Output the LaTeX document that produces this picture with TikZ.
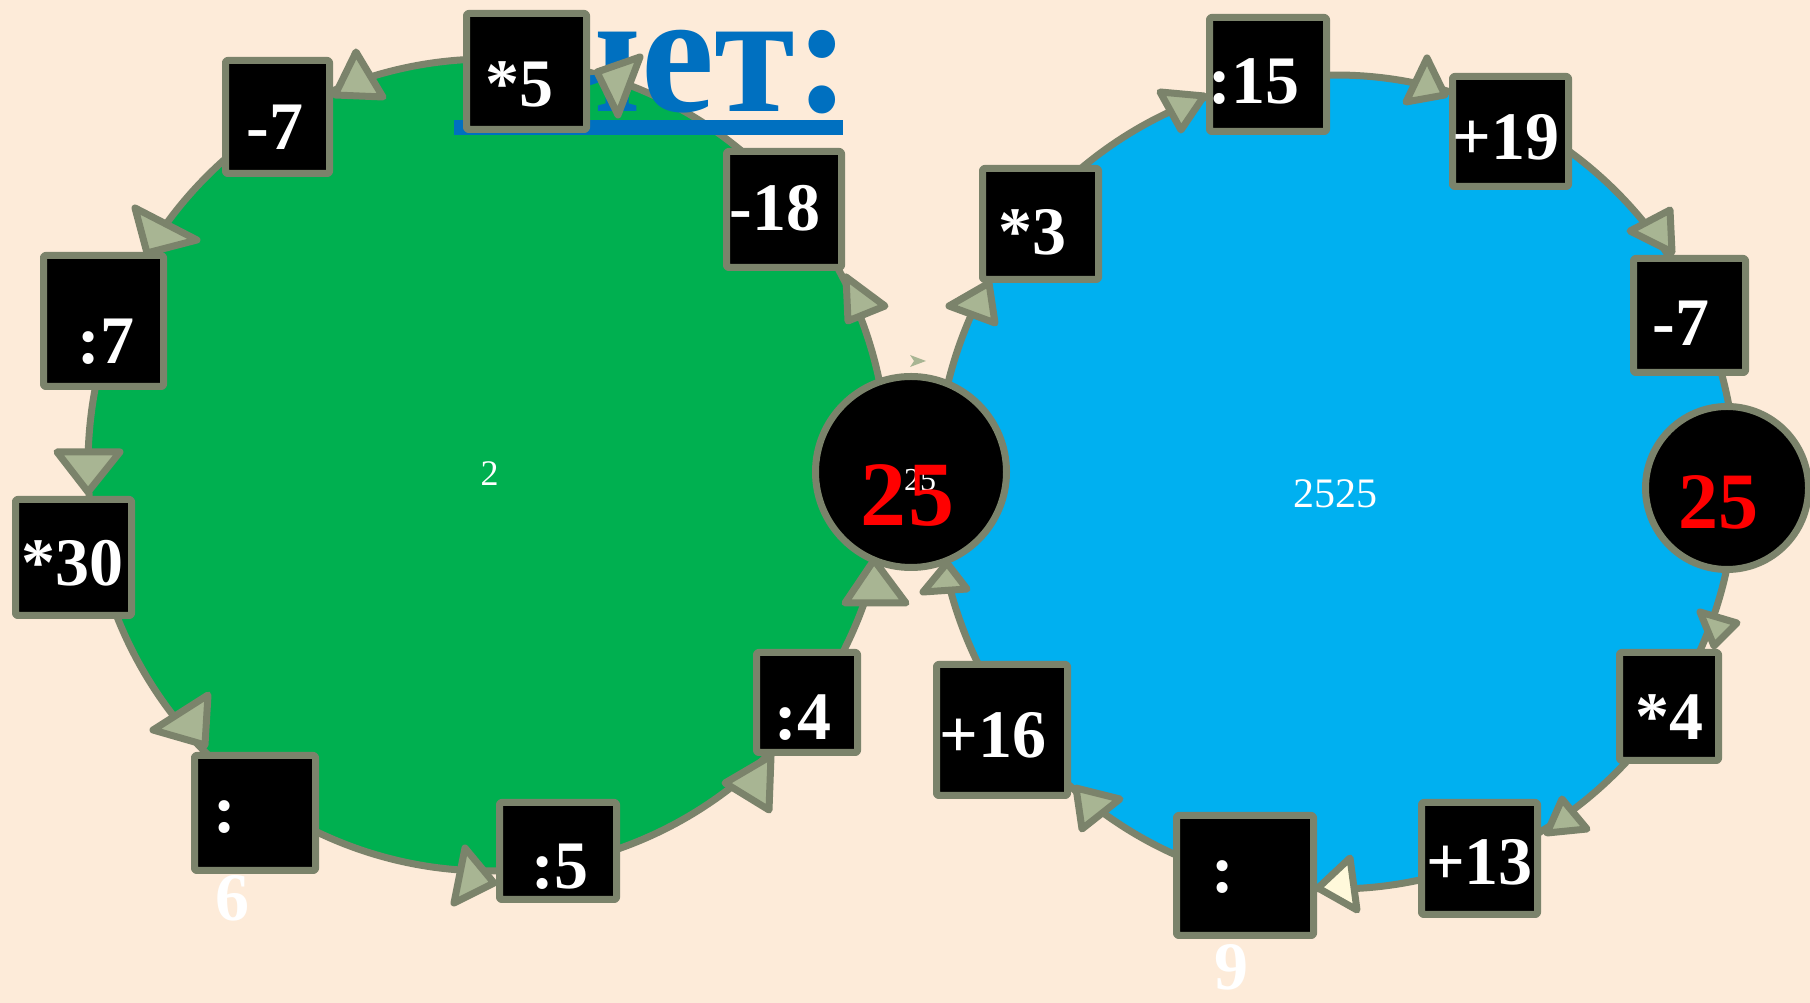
\documentclass[tikz,border=0pt]{standalone}
\usepackage{fontspec}
\setmainfont{Liberation Serif}
\usepackage{graphicx}
\usetikzlibrary{calc,shapes.geometric}
\definecolor{bg}{HTML}{FDEBD9}
\definecolor{ggreen}{HTML}{00B050}
\definecolor{bblue}{HTML}{00B0F0}
\definecolor{bord}{HTML}{7B836B}
\definecolor{sage}{HTML}{A8B593}
\definecolor{lyellow}{HTML}{FFF9DB}
\definecolor{tblue}{HTML}{0070C0}
\pgfdeclarelayer{fills}
\pgfdeclarelayer{rings}
\pgfsetlayers{fills,rings,main}
\newcommand\off[3]{\raisebox{#2}[0pt][0pt]{\makebox[0pt]{\hspace*{#1}\hspace*{#1}#3}}}
\newcommand\ringarc[5]{%
  \draw[ring] let \p1=($(#2)-(#1)$), \p2=($(#3)-(#1)$),
    \n1={atan2((\y1)/#5,(\x1)/#4)}, \n2={atan2((\y2)/#5,(\x2)/#4)},
    \n3={mod(\n2-(\n1)+540,360)-180}
  in ($(#1)+(\n1:#4pt and #5pt)$) arc[start angle=\n1, delta angle=\n3, x radius=#4pt, y radius=#5pt];}
\begin{document}
\begin{tikzpicture}[x=1pt,y=1pt,
  box/.style={draw=bord, line width=7pt, line join=round, rounded corners=2pt, fill=black,
    inner sep=0pt, outer sep=0pt, text=white, font=\bfseries\fontsize{68}{68}\selectfont},
  circ/.style={circle, draw=bord, line width=7pt, fill=black, inner sep=0pt, outer sep=0pt,
    text=white, font=\bfseries\fontsize{80}{80}\selectfont},
  ring/.style={draw=bord, line width=7pt},
  tri/.style={draw=bord, line width=7pt, line join=round, fill=sage},
  ctext/.style={anchor=base, inner sep=0pt, text=white}]
\useasboundingbox (0,0) rectangle (1810,1003);
% ---- boxes, left cycle
\node[box, minimum width=104pt, minimum height=113pt] (L1) at (277.5,886) {\off{-2.5pt}{-33pt}{-7}};
\node[box, minimum width=120pt, minimum height=116pt] (L2) at (526.5,931.5) {\off{-7.5pt}{-35.5pt}{*5}};
\node[box, minimum width=115pt, minimum height=116pt] (L3) at (784,793.5) {\off{-9pt}{-21.5pt}{-18}};
\node[box, minimum width=120pt, minimum height=131pt] (L4) at (103.5,682) {\off{2.5pt}{-43pt}{:7}};
\node[box, minimum width=116pt, minimum height=116pt] (L5) at (73.5,445.5) {\off{-1.5pt}{-28.5pt}{*30}};
\node[box, minimum width=121pt, minimum height=115pt] (L6) at (255,190) {\off{-30pt}{-20pt}{:}};
\node[box, minimum width=117pt, minimum height=97pt] (L7) at (558,152) {\off{2pt}{-38pt}{:5}};
\node[box, minimum width=101pt, minimum height=100pt] (L8) at (807,300.5) {\off{-4pt}{-37.5pt}{:4}};
% ---- boxes, right cycle
\node[box, minimum width=117pt, minimum height=114pt] (Ra) at (1268,928.5) {\off{-14pt}{-29.5pt}{:15}};
\node[box, minimum width=116pt, minimum height=110pt] (Rb) at (1510.5,871.5) {\off{-4.5pt}{-28.5pt}{+19}};
\node[box, minimum width=116pt, minimum height=111pt] (Rc) at (1040.5,779) {\off{-8.5pt}{-31pt}{*3}};
\node[box, minimum width=112pt, minimum height=114pt] (Rd) at (1689.5,687.5) {\off{-8.5pt}{-30.5pt}{-7}};
\node[box, minimum width=99pt, minimum height=108pt] (Re) at (1669,296.5) {\off{0pt}{-33.5pt}{*4}};
\node[box, minimum width=116pt, minimum height=112pt] (Rf) at (1479.5,144.5) {\off{0pt}{-26.5pt}{+13}};
\node[box, minimum width=137pt, minimum height=120pt] (Rg) at (1245,127.5) {\off{-22pt}{-17.5pt}{:}};
\node[box, minimum width=131pt, minimum height=131pt] (Rh) at (1002,273) {\off{-9pt}{-28pt}{+16}};
% ---- black circles
\node[circ, minimum size=191pt] (M) at (911,531) {};
\node[ctext, anchor=base west, font=\fontsize{32}{32}\selectfont] (Mw) at (904,512.5) {25};
\node[ctext, text=red, font=\bfseries\fontsize{92}{92}\selectfont] (Mr) at (907.5,477) {2\hspace{3pt}5};
\node[circ, minimum size=163pt] (R25) at (1727,515) {\off{-8.5pt}{-41pt}{\color{red}25}};
% ---- loose texts
\node[ctext, font=\fontsize{36}{36}\selectfont] (Gt) at (489.5,517) {2};
\node[ctext, font=\fontsize{42}{42}\selectfont] (Bt) at (1335,495.5) {2525};
\node[ctext, font=\bfseries\fontsize{68}{68}\selectfont] (six) at (232,82) {6};
\node[ctext, font=\bfseries\fontsize{68}{68}\selectfont] (nine) at (1231,13) {9};
% ---- triangles, left
\draw[tri] (356,951) -- (335,908) -- (383,906) -- cycle;
\draw[tri] (135,795) -- (197,763) -- (147,750) -- cycle;
\draw[tri] (57,551) -- (120,551) -- (88,511) -- cycle;
\draw[tri] (153,273) -- (208,308) -- (205,258) -- cycle;
\draw[tri] (454,100) -- (465,155) -- (494,120) -- cycle;
\draw[tri] (725,220) -- (771,247) -- (769,193) -- cycle;
\draw[tri] (874,443) -- (845,400) -- (906,400) -- cycle;
\draw[tri] (846,726) -- (885,697) -- (848,682) -- cycle;
\draw[tri] (597,931) -- (640,946) -- (618,888) -- cycle;
% ---- triangles, right
\draw[tri] (949,697) -- (989,720) -- (995,680) -- cycle;
\draw[tri] (1160,911) -- (1204,907) -- (1181,873) -- cycle;
\draw[tri] (1427,945) -- (1406,901) -- (1445,908) -- cycle;
\draw[tri] (1630,772) -- (1670,793) -- (1672,751) -- cycle;
\draw[tri] (1700,391) -- (1737,380) -- (1714,357) -- cycle;
\draw[tri] (1562,204) -- (1587,174) -- (1547,170) -- cycle;
\draw[tri, fill=lyellow] (1350,145) -- (1357,93) -- (1318,115) -- cycle;
\draw[tri] (1076,215) -- (1120,204) -- (1082,174) -- cycle;
\draw[tri] (947,440) -- (967,414) -- (923,411) -- cycle;
\fill[sage] (910,648) -- (926,642) -- (910,636) -- (914,642) -- cycle;
% ---- fills
\begin{pgfonlayer}{fills}
\fill[bg] (0,0) rectangle (1810,1003);
\node[ellipse, fill=ggreen, minimum width=800pt, minimum height=812pt, inner sep=0pt, outer sep=0pt] (G) at (488,538) {};
\node[ellipse, fill=bblue, minimum width=800pt, minimum height=814pt, inner sep=0pt, outer sep=0pt] (B) at (1336,521) {};
\end{pgfonlayer}
% ---- ring connectors and title
\begin{pgfonlayer}{rings}
\ringarc{G}{L2}{L3}{400}{406}
\ringarc{G}{L3}{M}{400}{406}
\ringarc{G}{M}{L8}{400}{406}
\ringarc{G}{L8}{L7}{400}{406}
\ringarc{G}{L7}{L6}{400}{406}
\ringarc{G}{L6}{L5}{400}{406}
\ringarc{G}{L5}{L4}{400}{406}
\ringarc{G}{L4}{L1}{400}{406}
\ringarc{G}{L1}{L2}{400}{406}
\ringarc{B}{Ra}{Rb}{400}{407}
\ringarc{B}{Rb}{Rd}{400}{407}
\ringarc{B}{Rd}{R25}{400}{407}
\ringarc{B}{R25}{Re}{400}{407}
\ringarc{B}{Re}{Rf}{400}{407}
\ringarc{B}{Rf}{Rg}{400}{407}
\ringarc{B}{Rg}{Rh}{400}{407}
\ringarc{B}{Rh}{M}{400}{407}
\ringarc{B}{M}{Rc}{400}{407}
\ringarc{B}{Rc}{Ra}{400}{407}
\node[anchor=base east, inner sep=0pt, text=tblue, font=\bfseries\fontsize{173}{173}\selectfont] (title) at (850,891) {\scalebox{0.95}[1]{счет:}};
\fill[tblue] (454,868) rectangle (843,883);
\end{pgfonlayer}
\end{tikzpicture}
\end{document}
